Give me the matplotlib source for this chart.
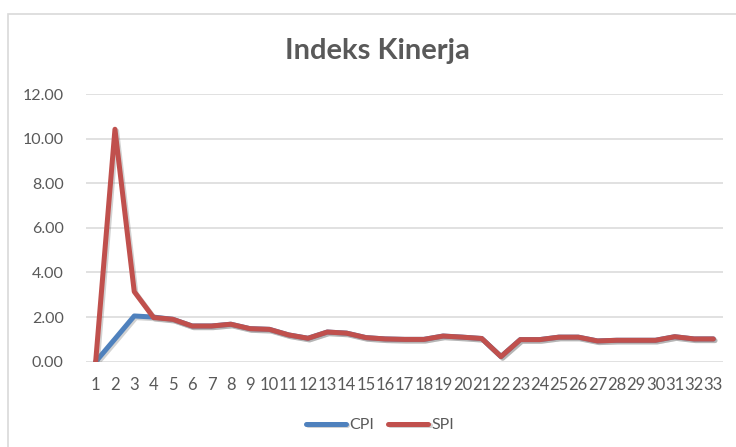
import numpy as np
import matplotlib.pyplot as plt
import matplotlib.patheffects as pe
from matplotlib.patches import Rectangle

periode = list(range(1, 34))
cpi = [0.00, 1.02, 2.05, 2.00, 1.90, 1.60, 1.60, 1.68, 1.48, 1.45, 1.20, 1.05, 1.33, 1.28, 1.08,
       1.02, 1.00, 1.00, 1.15, 1.10, 1.04, 0.23, 0.99, 0.99, 1.10, 1.10, 0.93, 0.96, 0.96, 0.96,
       1.12, 1.02, 1.02]
spi = [0.00, 10.42, 3.14, 1.98, 1.90, 1.60, 1.60, 1.68, 1.48, 1.45, 1.20, 1.05, 1.33, 1.28, 1.08,
       1.02, 1.00, 1.00, 1.15, 1.10, 1.04, 0.23, 0.99, 0.99, 1.10, 1.10, 0.93, 0.96, 0.96, 0.96,
       1.12, 1.02, 1.02]
yticks = [0, 2, 4, 6, 8, 10, 12]

plt.rcParams['font.family'] = ['Lato', 'DejaVu Sans']

fig = plt.figure(figsize=(7.36, 4.47), dpi=100)
W, H = 736.0, 447.0
ax = fig.add_axes([86 / W, 1 - 361.7 / H, (723 - 86) / W, (361.7 - 94) / H])

# chart border (cropped at right/bottom)
fig.patches.append(Rectangle((8 / W, -0.05), 1.1, 1 - 13.5 / H + 0.05, transform=fig.transFigure,
                             fill=False, edgecolor='#D9D9D9', linewidth=1.2))

shadow = [pe.SimpleLineShadow(offset=(1.2, -1.2), shadow_color='#7F7F7F', alpha=0.35), pe.Normal()]
ax.plot(periode, cpi, color='#4F81BD', linewidth=3.6, solid_capstyle='round', solid_joinstyle='round',
        label='CPI', path_effects=shadow, zorder=3)
ax.plot(periode, spi, color='#C0504D', linewidth=3.6, solid_capstyle='round', solid_joinstyle='round',
        label='SPI', path_effects=shadow, zorder=4)

ax.set_xlim(0.5, 33.5)
ax.set_ylim(0, 12)
ax.set_yticks(yticks)
ax.set_yticklabels(['%.2f' % v for v in yticks])
ax.set_xticks(periode)
ax.set_xticklabels([str(p) for p in periode])
ax.grid(axis='y', color='#D9D9D9', linewidth=1.1)
ax.set_axisbelow(True)
for s in ax.spines.values():
    s.set_visible(False)
ax.tick_params(axis='both', length=0, colors='#595959')
ax.tick_params(axis='y', pad=16, labelsize=11.5)
ax.tick_params(axis='x', pad=11, labelsize=12)

fig.text(377 / W, 1 - 51 / H, 'Indeks Kinerja', ha='center', va='center', fontsize=21,
         fontweight='bold', color='#595959')

leg = fig.legend(loc='center', bbox_to_anchor=(380 / W, 1 - 425 / H), ncol=2, frameon=False,
                 fontsize=11.5, handlelength=2.5, handletextpad=0.2, columnspacing=0.9)
for t in leg.get_texts():
    t.set_color('#595959')

fig.savefig('out.png', dpi=100)
